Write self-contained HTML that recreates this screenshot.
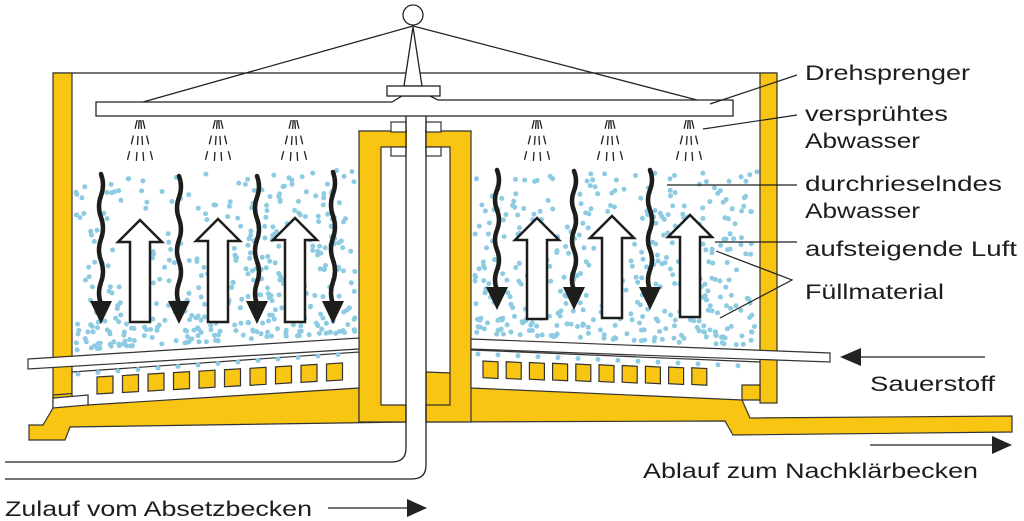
<!DOCTYPE html>
<html><head><meta charset="utf-8"><style>
html,body{margin:0;padding:0;background:#fff;}
svg{display:block}
text{font-family:"Liberation Sans",sans-serif;fill:#1d1d1b;font-size:21px}
</style></head><body>
<svg id="s" width="1024" height="521" viewBox="0 0 1024 521" xmlns="http://www.w3.org/2000/svg">
<g stroke="#222" stroke-width="1.3" fill="none">
<line x1="53" y1="73" x2="777" y2="73"/>
</g>
<g fill="#f8c512" stroke="#333" stroke-width="1.2">
<rect x="53" y="73" width="19" height="330"/>
<rect x="760" y="73" width="17" height="330"/>
<polygon points="53,395 359,372 359,422 406,422 406,422 70,427 65,440 29,440 29,425 43,425 53,408"/>
<polygon points="426,372 760,385 760,400 742,400 750,418 1012,416 1012,432 733,435 725,421 426,422"/>
<path d="M359,131 H471 V422 H426 V405 H450 V147 H381 V405 H406 V422 H359 Z"/>
</g>
<g fill="#fff" stroke="#333" stroke-width="1.2">
<polygon points="72,372 359,352 359,388 88,405 88,395 72,397"/>
<polygon points="53,398 88,395 88,405 53,408"/>
<polygon points="471,350 760,362 760,385 742,385 742,400 471,388"/>
<polygon points="28,359 359,338 359,349 28,369"/>
<polygon points="471,339 830,353 830,362 471,349"/>
<rect x="391" y="122" width="15" height="10"/><rect x="426" y="122" width="15" height="10"/>
<rect x="391" y="147" width="15" height="9"/><rect x="426" y="147" width="15" height="9"/>
</g>
<g id="dots" fill="#8ccbe2"></g>
<g id="bricks" fill="#f8c512" stroke="#333" stroke-width="1.2"></g>
<g stroke="#222" stroke-width="1.3" fill="#fff">
<path d="M96,102 H392 L402,96 H430 L438,100 H733 V116 H426 V116 H406 V116 H96 Z"/>
<polygon points="413,27 404,86 422,86"/>
<rect x="387" y="86" width="53" height="10"/>
<circle cx="413" cy="15" r="10"/>
<line x1="413" y1="26" x2="143" y2="102" fill="none"/>
<line x1="413" y1="26" x2="697" y2="100" fill="none"/>
<path d="M406,116 V448 Q406,462 392,462 H5" fill="none"/>
<path d="M426,116 V465 Q426,479 412,479 H5" fill="none"/>
</g>
<rect x="407" y="117" width="18" height="320" fill="#fff"/>
<g id="spray" stroke="#222" stroke-width="1.3" stroke-dasharray="9,7"></g>
<g id="arrows"></g>
<g stroke="#222" stroke-width="1.2">
<line x1="710" y1="104" x2="797" y2="75"/>
<line x1="703" y1="129" x2="797" y2="115"/>
<line x1="667" y1="185" x2="797" y2="185"/>
<line x1="715" y1="242" x2="797" y2="242"/>
<polyline points="716,251 792,280 720,318" fill="none"/>
<line x1="845" y1="357" x2="985" y2="357"/>
<line x1="870" y1="445" x2="995" y2="445"/>
<line x1="328" y1="508" x2="415" y2="508"/>
</g>
<g fill="#222">
<polygon points="840,357 861,348 861,366"/>
<polygon points="1012,445 992,436 992,454"/>
<polygon points="427,508 407,499 407,517"/>
</g>
<text x="805" y="80" textLength="165" lengthAdjust="spacingAndGlyphs">Drehsprenger</text>
<text x="805" y="121" textLength="143" lengthAdjust="spacingAndGlyphs">versprühtes</text>
<text x="805" y="148" textLength="115" lengthAdjust="spacingAndGlyphs">Abwasser</text>
<text x="805" y="191" textLength="197" lengthAdjust="spacingAndGlyphs">durchrieselndes</text>
<text x="805" y="218" textLength="115" lengthAdjust="spacingAndGlyphs">Abwasser</text>
<text x="805" y="256" textLength="212" lengthAdjust="spacingAndGlyphs">aufsteigende Luft</text>
<text x="805" y="299" textLength="139" lengthAdjust="spacingAndGlyphs">Füllmaterial</text>
<text x="870" y="391" textLength="125" lengthAdjust="spacingAndGlyphs">Sauerstoff</text>
<text x="643" y="478" textLength="335" lengthAdjust="spacingAndGlyphs">Ablauf zum Nachklärbecken</text>
<text x="5" y="516" textLength="307" lengthAdjust="spacingAndGlyphs">Zulauf vom Absetzbecken</text>
</svg>
<script>
var NS="http://www.w3.org/2000/svg";
function el(t,a,p){var e=document.createElementNS(NS,t);for(var k in a)e.setAttribute(k,a[k]);document.getElementById(p).appendChild(e);return e;}
var seed=7;function r(){seed=(seed*16807)%2147483647;return (seed-1)/2147483646;}
for(var i=0;i<420;i++){var x=76+r()*280;var yb=359-(x-28)*21/331-6;var t=Math.pow(r(),1.6);var y=yb-t*(yb-170);el("circle",{cx:x.toFixed(1),cy:y.toFixed(1),r:2.5},"dots");}
for(var i=0;i<420;i++){var x=475+r()*282;var yb=339+(x-471)*13/289-6;var t=Math.pow(r(),1.6);var y=yb-t*(yb-170);el("circle",{cx:x.toFixed(1),cy:y.toFixed(1),r:2.5},"dots");}
for(var i=0;i<14;i++){el("circle",{cx:78+i*20,cy:(374-i*1.5),r:2.5},"dots");el("circle",{cx:478+i*20,cy:(354+i*0.9),r:2.5},"dots");}
for(var i=0;i<10;i++){var x=97+i*25.5;var y=377-i*1.45;el("polygon",{points:x+","+y+" "+(x+16)+","+(y-1)+" "+(x+16)+","+(y+16)+" "+x+","+(y+17)},"bricks");}
for(var i=0;i<10;i++){var x=483+i*23.2;var y=361+i*0.75;el("polygon",{points:x+","+y+" "+(x+15)+","+(y+0.8)+" "+(x+15)+","+(y+17.5)+" "+x+","+(y+16.7)},"bricks");}
[140,218,294,537,610,689].forEach(function(c){[-14,-4,4,14].forEach(function(d){el("line",{x1:c+d*0.2,y1:120,x2:c+d,y2:166},"spray");});});
function wave(x,y0,y1){var d="M"+x+","+y0;var n=6,h=(y1-y0)/n;for(var i=0;i<n;i++){var s=i%2?-1:1;d+=" q"+(4*s)+","+(h/2)+" 0,"+h;}el("path",{d:d,stroke:"#1d1d1b","stroke-width":4.5,fill:"none","stroke-linecap":"round"},"arrows");el("polygon",{points:(x-11)+","+(y1-3)+" "+(x+11)+","+(y1-3)+" "+x+","+(y1+20),fill:"#1d1d1b"},"arrows");}
[[101,174,304],[179,176,304],[257,176,304],[333,172,304],[497,170,290],[574,171,290],[650,170,290]].forEach(function(a){wave(a[0],a[1],a[2]);});
function hol(x,t,b){var p=[[x,t],[x+22,t+22],[x+10,t+22],[x+10,b],[x-10,b],[x-10,t+22],[x-22,t+22]];el("polygon",{points:p.map(function(q){return q.join(",")}).join(" "),fill:"#fff",stroke:"#1d1d1b","stroke-width":2.5},"arrows");}
[[140,220,322],[218,219,322],[295,218,322],[537,218,319],[612,216,318],[690,215,317]].forEach(function(a){hol(a[0],a[1],a[2]);});
</script>
</body></html>
